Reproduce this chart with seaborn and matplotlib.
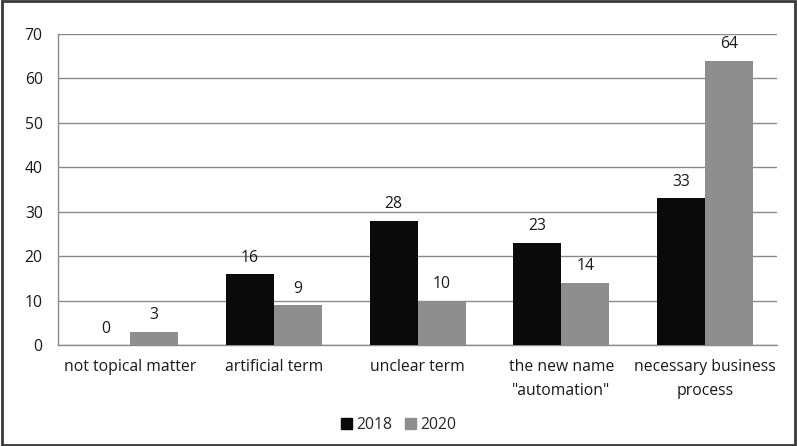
import pandas as pd
import matplotlib.pyplot as plt
import matplotlib.patches as mpatches
import seaborn as sns

categories = ['not topical matter', 'artificial term', 'unclear term',
              'the new name\n"automation"', 'necessary business\nprocess']
years = ['2018', '2020']
values_2018 = [0, 16, 28, 23, 33]
values_2020 = [3, 9, 10, 14, 64]
yticks = [0, 10, 20, 30, 40, 50, 60, 70]

df = pd.DataFrame({
    'category': categories * 2,
    'year': [years[0]] * len(categories) + [years[1]] * len(categories),
    'value': values_2018 + values_2020,
})

sns.set_style('white')
plt.rcParams['font.family'] = ['Open Sans', 'DejaVu Sans']

fig = plt.figure(figsize=(7.97, 4.46), dpi=100)
ax = fig.add_axes([0.0728, 0.2265, 0.9022, 0.6973])

palette = {'2018': '#0a0a0a', '2020': '#8e8e8e'}
sns.barplot(data=df, x='category', y='value', hue='year', palette=palette,
            width=0.667, saturation=1, ax=ax, legend=False, zorder=3, linewidth=0)

fs = 11.3
for cont in ax.containers:
    ax.bar_label(cont, padding=6, fontsize=fs, color='#1a1a1a')

ax.set_ylim(0, 70)
ax.set_xlim(-0.5, len(categories) - 0.5)
ax.set_yticks(yticks)
ax.yaxis.grid(True, color='#8a8a8a', linewidth=1, zorder=0)
ax.set_axisbelow(True)
ax.set_xlabel('')
ax.set_ylabel('')

for s in ['top', 'right']:
    ax.spines[s].set_visible(False)
for s in ['left', 'bottom']:
    ax.spines[s].set_color('#8a8a8a')
    ax.spines[s].set_linewidth(1)

ax.tick_params(axis='y', length=5, color='#8a8a8a', labelsize=fs, labelcolor='#1a1a1a', pad=6)
ax.tick_params(axis='x', which='major', length=0, labelsize=fs, labelcolor='#1a1a1a', pad=10)
for lbl in ax.get_xticklabels():
    lbl.set_linespacing(1.65)
ax.set_xticks([i + 0.5 for i in range(-1, len(categories))], minor=True)
ax.tick_params(axis='x', which='minor', length=5, color='#8a8a8a')

handles = [mpatches.Patch(color=palette[y], label=y) for y in years]
fig.legend(handles=handles, loc='center', bbox_to_anchor=(0.5, 0.048), ncol=2,
           frameon=False, fontsize=fs, handlelength=0.7, handleheight=0.7,
           handletextpad=0.3, columnspacing=0.8)

fig.patches.append(mpatches.Rectangle((0.002, 0.003), 0.996, 0.994, transform=fig.transFigure,
                                      fill=False, edgecolor='#3a3a3a', linewidth=2))

fig.savefig('out.png', dpi=100)
